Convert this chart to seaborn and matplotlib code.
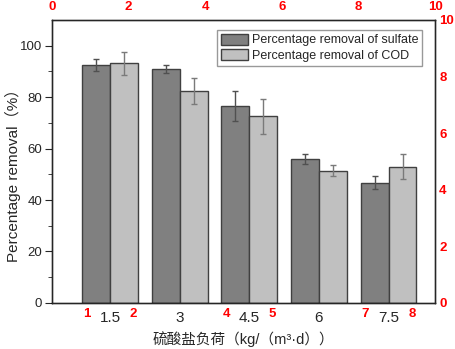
import numpy as np
import pandas as pd
import matplotlib
matplotlib.use("Agg")
import matplotlib.pyplot as plt
import seaborn as sns

sns.set_style("ticks")
plt.rcParams['font.family'] = ['Liberation Sans', 'Noto Sans CJK SC']

# data
loads = [1.5, 3, 4.5, 6, 7.5]
sulfate_removal = [92.6, 90.9, 76.5, 55.9, 46.8]
sulfate_err = [2.3, 1.4, 5.9, 1.9, 2.4]
cod_removal = [93.1, 82.4, 72.5, 51.4, 52.9]
cod_err = [4.6, 5.1, 6.8, 2.1, 4.9]
series_names = ["Percentage removal of sulfate", "Percentage removal of COD"]
left_ticks = [0, 20, 40, 60, 80, 100]
right_ticks = [0, 2, 4, 6, 8, 10]
top_ticks = [0, 2, 4, 6, 8, 10]
bottom_marks = [1, 2, 3, 4, 5, 6, 7, 8]

df = pd.DataFrame({
    "load": loads + loads,
    "value": sulfate_removal + cod_removal,
    "series": [series_names[0]] * len(loads) + [series_names[1]] * len(loads),
})

fig = plt.figure(figsize=(4.56, 3.49), dpi=100)
ax = fig.add_axes([0.114, 0.132, 0.84, 0.811])

sns.barplot(data=df, x="load", y="value", hue="series", native_scale=True,
            palette=["#808080", "#c0c0c0"], edgecolor="#404040", linewidth=1,
            errorbar=None, ax=ax)

err_colors = ["#505050", "#7a7a7a"]
for cont, errs, col in zip(ax.containers, [sulfate_err, cod_err], err_colors):
    xs = [b.get_x() + b.get_width() / 2 for b in cont]
    ys = [b.get_height() for b in cont]
    ax.errorbar(xs, ys, yerr=errs, fmt="none", ecolor=col, elinewidth=1,
                capsize=2.3, capthick=1)

ax.set_xlim(0.25, 8.5)
ax.set_ylim(0, 110)
ax.set_yticks(left_ticks)
ax.set_yticks(np.arange(10, 110, 20), minor=True)
ax.tick_params(axis="y", which="major", direction="out", length=5, labelsize=9.5, pad=2)
ax.tick_params(axis="y", which="minor", direction="out", length=3)
ax.set_xticks(loads, labels=[str(v) for v in loads])
ax.set_xticks(bottom_marks, labels=[str(v) for v in bottom_marks], minor=True)
ax.tick_params(axis="x", which="major", length=0, labelsize=11, pad=6)
ax.tick_params(axis="x", which="minor", length=0, labelsize=9.5, pad=4,
               labelcolor="red")
for lab in ax.get_xticklabels(minor=True):
    lab.set_fontweight("bold")

ax.set_ylabel("Percentage removal（%）", fontsize=11)
ax.yaxis.set_label_coords(-0.08, 0.463)
ax.set_xlabel("硫酸盐负荷（kg/（m³·d））", fontsize=10.5, labelpad=4)
for s in ax.spines.values():
    s.set_visible(True)
    s.set_color("black")
    s.set_linewidth(1)

handles, labels = ax.get_legend_handles_labels()
ax.legend(handles, labels, loc="upper right", bbox_to_anchor=(0.966, 0.965),
          borderaxespad=0, fontsize=9, frameon=True, fancybox=False,
          edgecolor="#808080", handlelength=2.2, handleheight=1.0,
          labelspacing=0.2, borderpad=0.3, handletextpad=0.3)
ax.get_legend().get_frame().set_linewidth(1)

ax_r = ax.twinx()
ax_r.set_ylim(0, 10)
ax_r.set_yticks(right_ticks)
ax_r.tick_params(axis="y", length=0, labelsize=9.5, labelcolor="red", pad=3)
for lab in ax_r.get_yticklabels():
    lab.set_fontweight("bold")

ax_t = ax.twiny()
ax_t.set_xlim(0, 10)
ax_t.set_xticks(top_ticks)
ax_t.tick_params(axis="x", length=0, labelsize=9.5, labelcolor="red", pad=5)
for lab in ax_t.get_xticklabels():
    lab.set_fontweight("bold")

fig.savefig("out.png", dpi=100)
